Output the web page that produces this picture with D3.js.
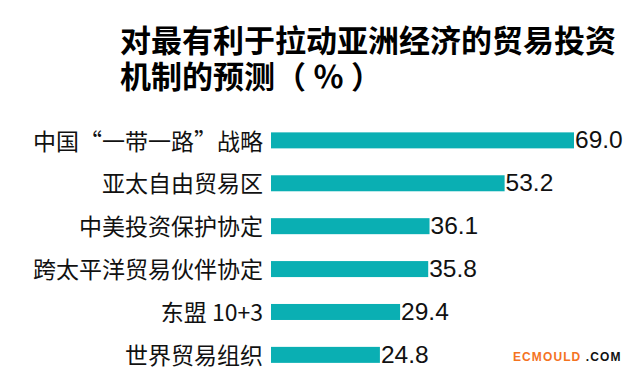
<!DOCTYPE html>
<html>
<head>
<meta charset="utf-8">
<script src="https://cdn.jsdelivr.net/npm/d3@7"></script>
<style>
  body { margin: 0; background: #fff; }
  svg { display: block; }
</style>
</head>
<body>
<svg width="637" height="377"></svg>
<script>
const titleLines = ['对最有利于拉动亚洲经济的贸易投资', '机制的预测（ ％ ）']
const categories = ['中国“一带一路”战略', '亚太自由贸易区', '中美投资保护协定', '跨太平洋贸易伙伴协定', '东盟 10+3', '世界贸易组织']
const values = [69.0, 53.2, 36.1, 35.8, 29.4, 24.8]

const width = 637
const height = 377
const step = 42.9
const margin = {top: 119.5, left: 271}

const svg = d3.select('svg')

const x = d3.scaleLinear()
  .domain([0, 69.0])
  .range([margin.left, 574])

// band scale: 6 bands, inner padding 0.627, outer 0.3
const y = d3.scaleBand()
  .domain(categories)
  .range([margin.top, margin.top + step * (categories.length - 0.627 + 0.6)])
  .paddingInner(0.627)
  .paddingOuter(0.3)

// title
svg.append('g')
  .selectAll('text')
  .data(titleLines)
  .join('text')
  .attr('x', 120)
  .attr('y', (d, i) => 52 + i * 36)
  .style('font-family', '"Noto Sans CJK SC", sans-serif')
  .style('font-weight', 'bold')
  .style('font-size', '31px')
  .style('fill', '#000')
  .text(d => d)

// bars
svg.append('g')
  .selectAll('rect')
  .data(values)
  .join('rect')
  .attr('x', x(0))
  .attr('y', (d, i) => y(categories[i]))
  .attr('width', d => x(d) - x(0))
  .attr('height', y.bandwidth())
  .style('fill', '#0aafb3')

// value labels
svg.append('g')
  .selectAll('text')
  .data(values)
  .join('text')
  .attr('x', d => x(d) + 1)
  .attr('y', (d, i) => y(categories[i]) + y.bandwidth())
  .style('font-family', '"Liberation Sans", Arial, sans-serif')
  .style('font-size', '24.5px')
  .style('fill', '#111')
  .text(d => d.toFixed(1))

// category axis
const yAxis = g => g
  .attr('transform', `translate(${margin.left - 8}, 0)`)
  .call(d3.axisLeft(y).tickSize(0).tickPadding(0))
  .call(g => g.select('.domain').remove())
  .call(g => g.selectAll('text')
    .attr('dy', '0.4em')
    .style('font-family', '"Noto Sans CJK SC", sans-serif')
    .style('font-size', '23px')
    .style('fill', '#111'))

svg.append('g').call(yAxis)

// watermark
const wm = svg.append('text')
  .attr('x', 513)
  .attr('y', 361)
  .style('font-family', '"Liberation Sans", Arial, sans-serif')
  .style('font-weight', 'bold')
  .style('font-size', '12px')
  .style('letter-spacing', '1.1px')
wm.append('tspan').style('fill', '#f4731f').text('ECMOULD')
wm.append('tspan').style('fill', '#111').text(' .COM')
</script>
</body>
</html>
